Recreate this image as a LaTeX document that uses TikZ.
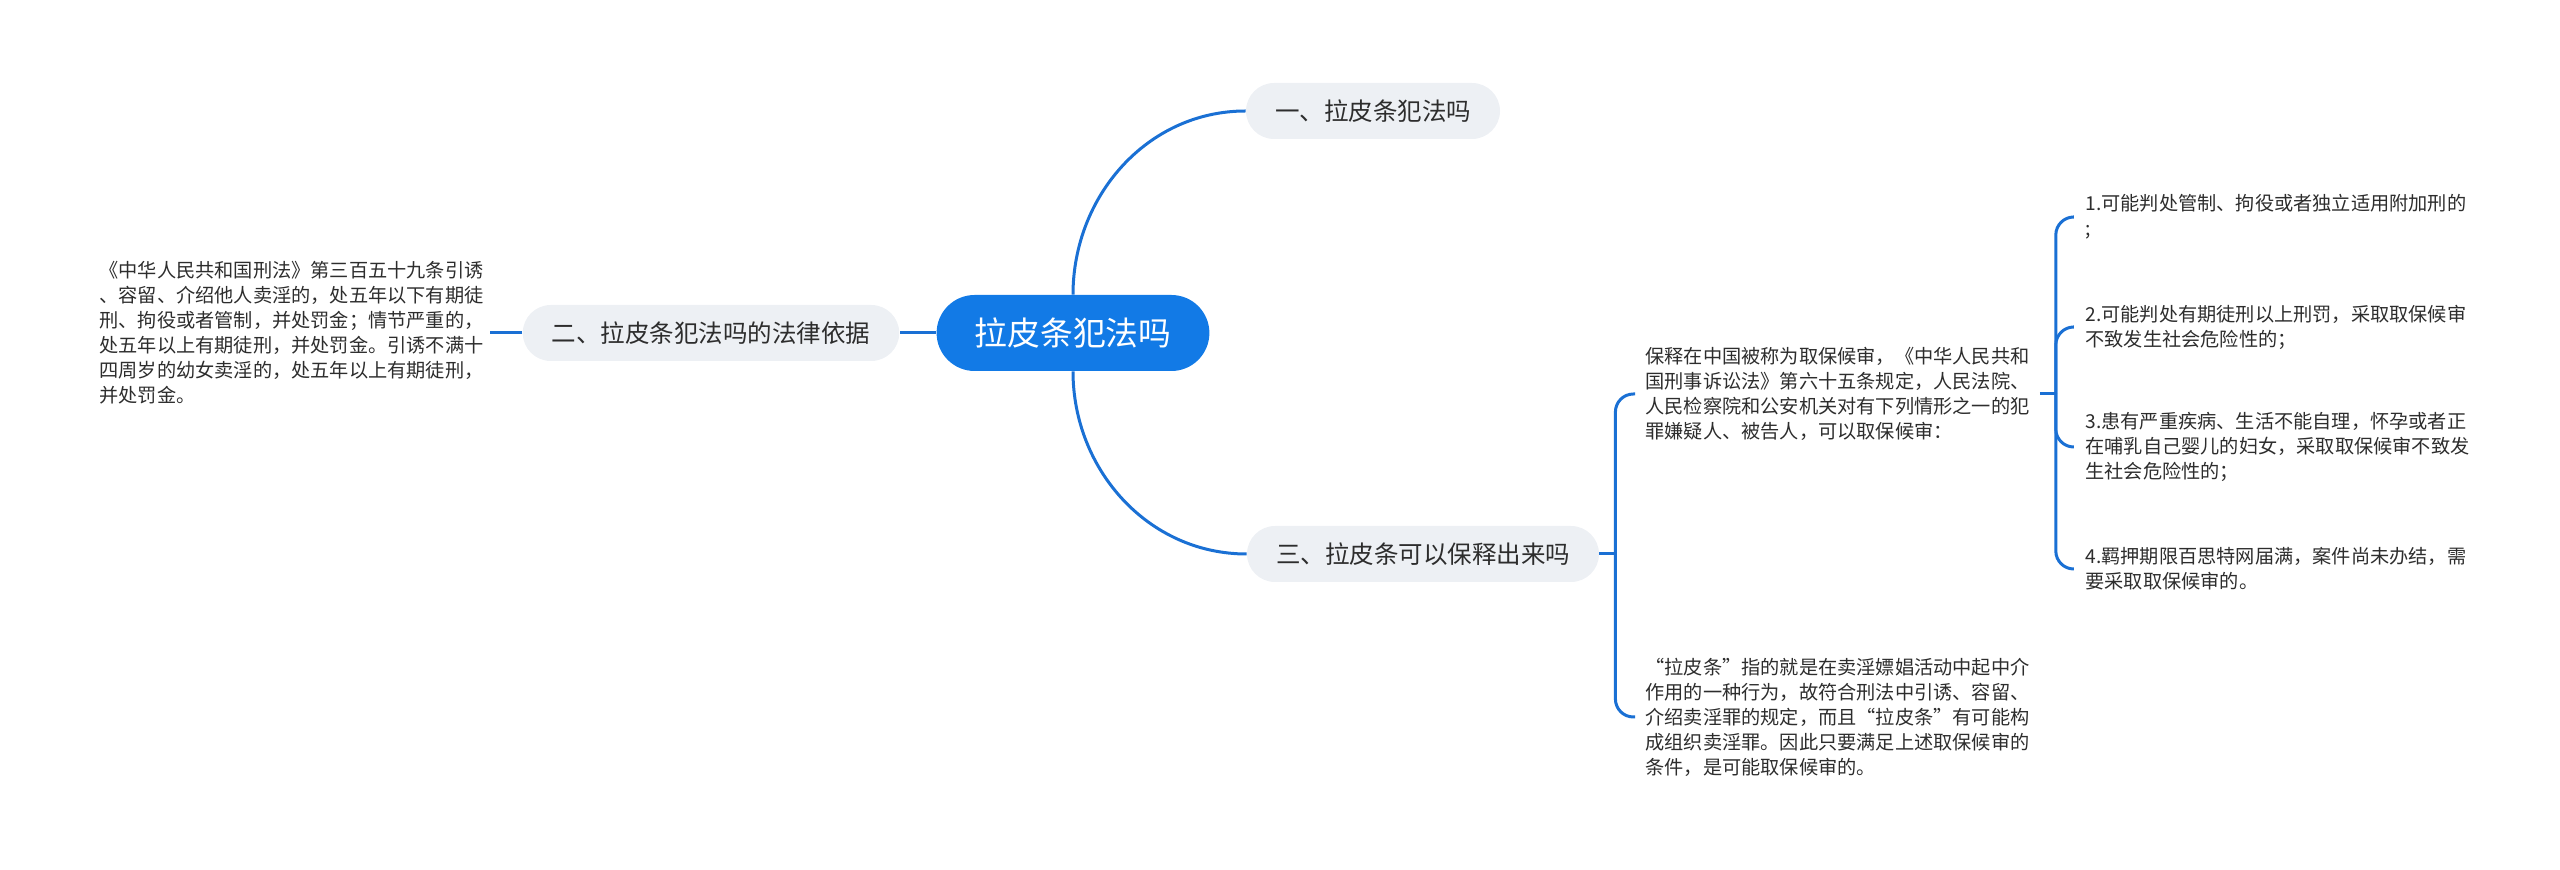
\documentclass[tikz,border=0pt]{standalone}
\usepackage{fontspec}
\setmainfont{Noto Sans CJK SC}
\usepackage{tikz}
\definecolor{mapblue}{RGB}{18,122,230}
\definecolor{linkblue}{RGB}{26,112,212}
\definecolor{topicgray}{RGB}{237,240,244}
\definecolor{textgray}{RGB}{45,45,45}

\begin{document}
\begin{tikzpicture}[x=0.5pt, y=0.5pt,
        rootnode/.style={fill=mapblue, text=white, rounded corners=19pt, minimum height=38pt, inner xsep=19pt, font=\fontsize{16.4pt}{20pt}\selectfont},
        topic/.style={fill=topicgray, text=textgray, rounded corners=14pt, minimum height=28pt, inner xsep=14.5pt, font=\fontsize{12.25pt}{15pt}\selectfont},
        note/.style={text=textgray, align=left, inner ysep=0pt, inner xsep=6pt, font=\fontsize{9.6pt}{12.5pt}\selectfont},
        link/.style={draw=linkblue, line width=1.5pt}]
        \useasboundingbox (0,0) rectangle (2560,-870);

        \node[rootnode] (root) at (1073,-333) {拉皮条犯法吗};
        \node[topic] (q1) at (1373,-111) {一、拉皮条犯法吗};
        \node[topic] (q2) at (711,-333) {二、拉皮条犯法吗的法律依据};
        \node[topic] (q3) at (1423,-554) {三、拉皮条可以保释出来吗};

        % 法律依据
        \node[note, anchor=east, inner xsep=3pt] (basis) at (490,-333) {《中华人民共和国刑法》第三百五十九条引诱\\、容留、介绍他人卖淫的，处五年以下有期徒\\刑、拘役或者管制，并处罚金；情节严重的，\\处五年以上有期徒刑，并处罚金。引诱不满十\\四周岁的幼女卖淫的，处五年以上有期徒刑，\\并处罚金。};

        % 保释
        \node[note, anchor=west, inner xsep=5pt] (bail) at (1635,-394) {保释在中国被称为取保候审，《中华人民共和\\国刑事诉讼法》第六十五条规定，人民法院、\\人民检察院和公安机关对有下列情形之一的犯\\罪嫌疑人、被告人，可以取保候审：};
        \node[note, anchor=west, inner xsep=5pt] (pimp) at (1635,-717) {“拉皮条”指的就是在卖淫嫖娼活动中起中介\\作用的一种行为，故符合刑法中引诱、容留、\\介绍卖淫罪的规定，而且“拉皮条”有可能构\\成组织卖淫罪。因此只要满足上述取保候审的\\条件，是可能取保候审的。};

        \node[note, anchor=west] (c1) at (2073,-217) {1.可能判处管制、拘役或者独立适用附加刑的\\;};
        \node[note, anchor=west] (c2) at (2073,-327) {2.可能判处有期徒刑以上刑罚，采取取保候审\\不致发生社会危险性的；};
        \node[note, anchor=west] (c3) at (2073,-447) {3.患有严重疾病、生活不能自理，怀孕或者正\\在哺乳自己婴儿的妇女，采取取保候审不致发\\生社会危险性的；};
        \node[note, anchor=west] (c4) at (2073,-569) {4.羁押期限百思特网届满，案件尚未办结，需\\要采取取保候审的。};

        \draw[link] (root.north) to[out=90, in=180] (q1.west);
        \draw[link] (root.south) to[out=-90, in=180] (q3.west);
        \draw[link] (root.west) -- (q2.east);
        \draw[link] (q2.west) -- (basis.east);

        \draw[link] (q3.east) -- ++(16,0) coordinate (j3);
        \foreach \n in {bail, pimp}
            \draw[link, rounded corners=9pt] (j3) |- (\n.west);

        \draw[link] (bail.east) -- ++(16,0) coordinate (j4);
        \foreach \n in {c1, c2, c3, c4}
            \draw[link, rounded corners=9pt] (j4) |- (\n.west);
    \end{tikzpicture}
\end{document}
